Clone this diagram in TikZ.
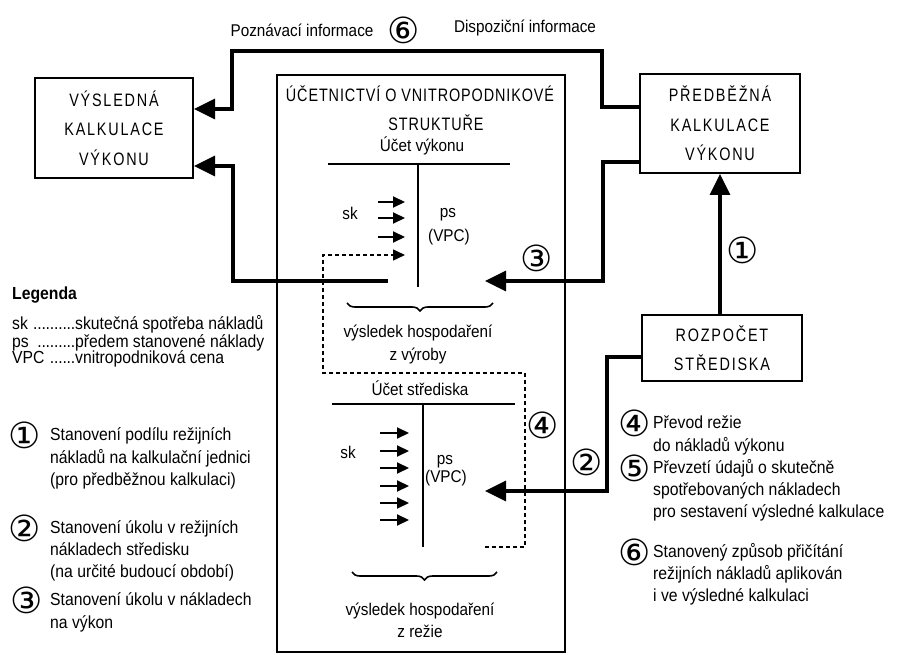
\documentclass[tikz,border=0pt]{standalone}
\usepackage{fontspec}
\setmainfont{Liberation Sans}[FakeStretch=0.9]
\newfontfamily\boxfont{Liberation Sans}[FakeStretch=0.8,LetterSpace=10]
\newfontfamily\titlefont{Liberation Sans}[FakeStretch=0.8,LetterSpace=5]
\newfontfamily\circfont{DejaVu Sans}
\newcommand\legdots{\leaders\hbox to 4.2pt{\hss.\hss}\hfill}
\usetikzlibrary{arrows.meta,decorations.pathreplacing}
\begin{document}
\begin{tikzpicture}[x=1pt,y=-1pt,
  box/.style={draw,line width=2pt,align=center,inner sep=0pt,
    font=\boxfont\fontsize{18}{29.5}\selectfont},
  conn/.style={line width=3.2pt,-{Triangle[length=21pt,width=20pt]}},
  tline/.style={line width=2pt},
  smallarr/.style={line width=2pt,-{Triangle[length=12pt,width=11pt]}},
  dash4/.style={line width=1.4pt,dash pattern=on 4pt off 3pt,-{Triangle[length=12pt,width=11pt]}},
  brc/.style={line width=1.6pt,decorate,decoration={brace,mirror,amplitude=8pt}},
  circ/.style={font=\circfont\fontsize{36}{36}\selectfont,inner sep=0pt},
  txt/.style={anchor=base,inner sep=0pt,font=\fontsize{17}{20}\selectfont},
  leg/.style={anchor=base west,inner sep=0pt,font=\fontsize{17.5}{20}\selectfont}]
\useasboundingbox (0,0) rectangle (900,655);
\fill[white] (0,0) rectangle (900,655);

% boxes
\node[box,minimum width=158pt,minimum height=100pt] (vys) at (114,128) {VÝSLEDNÁ\\KALKULACE\\VÝKONU};
\node[box,minimum width=160pt,minimum height=99pt] (pred) at (720,123.5) {PŘEDBĚŽNÁ\\KALKULACE\\VÝKONU};
\node[box,minimum width=160pt,minimum height=66pt] (roz) at (722,348) {ROZPOČET\\STŘEDISKA};
\node[draw,line width=2pt,minimum width=288pt,minimum height=577pt,inner sep=0pt] (ucto) at (421,363.5) {};

% title
\node[txt,font=\titlefont\fontsize{18}{20}\selectfont] (tit1) at (420,102) {ÚČETNICTVÍ O VNITROPODNIKOVÉ};
\node[txt,font=\titlefont\fontsize{18}{20}\selectfont] (tit2) at (436,131) {STRUKTUŘE};
\node[txt] (uv) at (422,152) {Účet výkonu};

% top labels
\node[txt] (pozn) at (302,37) {Poznávací informace};
\node[circ] (c6top) at (404,30) {⑥};
\node[txt] (disp) at (525,33) {Dispoziční informace};

% coordinates
\coordinate (c1) at (602,107);
\coordinate (c2) at (602,51);
\coordinate (c3) at (232,51);
\coordinate (c4) at (232,109);
\coordinate (c5) at (603,162);
\coordinate (c6) at (603,281);
\coordinate (a3tip) at (485,281);
\coordinate (c7) at (388,281);
\coordinate (c8) at (233,281);
\coordinate (c9) at (233,166);
\coordinate (c10) at (720,0);
\coordinate (c11) at (607,357);
\coordinate (c12) at (607,491);
\coordinate (a2tip) at (485,491);

% main connectors
\draw[conn] (pred.west |- c1) -- (c1) -- (c2) -- (c3) -- (c4) -- (vys.east |- c4);
\draw[conn] (pred.west |- c5) -- (c5) -- (c6) -- (a3tip);
\draw[conn] (c7) -- (c8) -- (c9) -- (vys.east |- c9);
\draw[conn] (roz.north -| c10) -- (pred.south -| c10);
\draw[conn] (roz.west |- c11) -- (c11) -- (c12) -- (a2tip);

% connector labels
\node[circ] (n3) at (537,258) {③};
\node[circ] (n1) at (743,250) {①};
\node[circ] (n2) at (587,462) {②};
\node[circ] (n4) at (543,425) {④};

% T account vykon
\coordinate (tv1) at (328,164);
\coordinate (tv2) at (510,164);
\coordinate (tv3) at (418,164);
\coordinate (tv4) at (418,287);
\draw[tline] (tv1) -- (tv2);
\draw[tline] (tv3) -- (tv4);
\node[txt] (sk1) at (350,220) {sk};
\node[txt] (ps1) at (448,218) {ps};
\node[txt] (vpc1) at (449,242) {(VPC)};
\foreach \yy [count=\i] in {202,218,237} {
  \coordinate (sva\i) at (378,\yy);
  \coordinate (svb\i) at (405,\yy);
  \draw[smallarr] (sva\i) -- (svb\i);
}
\draw[brc] (347,303) -- (493,303);
\node[txt] (vh1) at (418,337) {výsledek hospodaření};
\node[txt] (vh1b) at (418,360) {z výroby};

% dashed 4
\coordinate (d0) at (485,547);
\coordinate (d1) at (525,547);
\coordinate (d2) at (525,373);
\coordinate (d3) at (323,373);
\coordinate (d4) at (323,255);
\coordinate (d5) at (405,255);
\draw[dash4] (d0) -- (d1) -- (d2) -- (d3) -- (d4) -- (d5);

% T account stredisko
\node[txt] (us) at (420,395) {Účet střediska};
\coordinate (ts1) at (332,404);
\coordinate (ts2) at (515,404);
\coordinate (ts3) at (423,404);
\coordinate (ts4) at (423,547);
\draw[tline] (ts1) -- (ts2);
\draw[tline] (ts3) -- (ts4);
\node[txt] (sk2) at (348,458) {sk};
\node[txt] (ps2) at (445,464) {ps};
\node[txt] (vpc2) at (446,482) {(VPC)};
\foreach \yy [count=\i] in {433,451,468,486,503,520} {
  \coordinate (ssa\i) at (380,\yy);
  \coordinate (ssb\i) at (409,\yy);
  \draw[smallarr] (ssa\i) -- (ssb\i);
}
\draw[brc] (352,572) -- (497,572);
\node[txt] (vh2) at (420,615) {výsledek hospodaření};
\node[txt] (vh2b) at (420,637) {z režie};

% legend left
\node[leg,font=\bfseries\fontsize{17.5}{20}\selectfont] (lg) at (12,300) {Legenda};
\node[leg] (lsk) at (12,330) {\makebox[63pt][l]{sk \legdots}skutečná spotřeba nákladů};
\node[leg] (lps) at (12,347) {\makebox[63pt][l]{ps \legdots}předem stanovené náklady};
\node[leg] (lvpc) at (12,363) {\makebox[63pt][l]{VPC \legdots}vnitropodniková cena};

\node[circ] (l1) at (25,435) {①};
\node[leg] (l1a) at (50,440) {Stanovení podílu režijních};
\node[leg] (l1b) at (50,463) {nákladů na kalkulační jednici};
\node[leg] (l1c) at (50,485) {(pro předběžnou kalkulaci)};

\node[circ] (l2) at (25,528) {②};
\node[leg] (l2a) at (50,533) {Stanovení úkolu v režijních};
\node[leg] (l2b) at (50,555) {nákladech středisku};
\node[leg] (l2c) at (50,577) {(na určité budoucí období)};

\node[circ] (l3) at (27,600) {③};
\node[leg] (l3a) at (50,605) {Stanovení úkolu v nákladech};
\node[leg] (l3b) at (50,628) {na výkon};

% legend right
\node[circ] (r4) at (635,423) {④};
\node[leg] (r4a) at (653,428) {Převod režie};
\node[leg] (r4b) at (653,451) {do nákladů výkonu};

\node[circ] (r5) at (635,468) {⑤};
\node[leg] (r5a) at (653,473) {Převzetí údajů o skutečně};
\node[leg] (r5b) at (653,495) {spotřebovaných nákladech};
\node[leg] (r5c) at (653,517) {pro sestavení výsledné kalkulace};

\node[circ] (r6) at (635,552) {⑥};
\node[leg] (r6a) at (653,557) {Stanovený způsob přičítání};
\node[leg] (r6b) at (653,579) {režijních nákladů aplikován};
\node[leg] (r6c) at (653,601) {i ve výsledné kalkulaci};
\end{tikzpicture}
\end{document}
